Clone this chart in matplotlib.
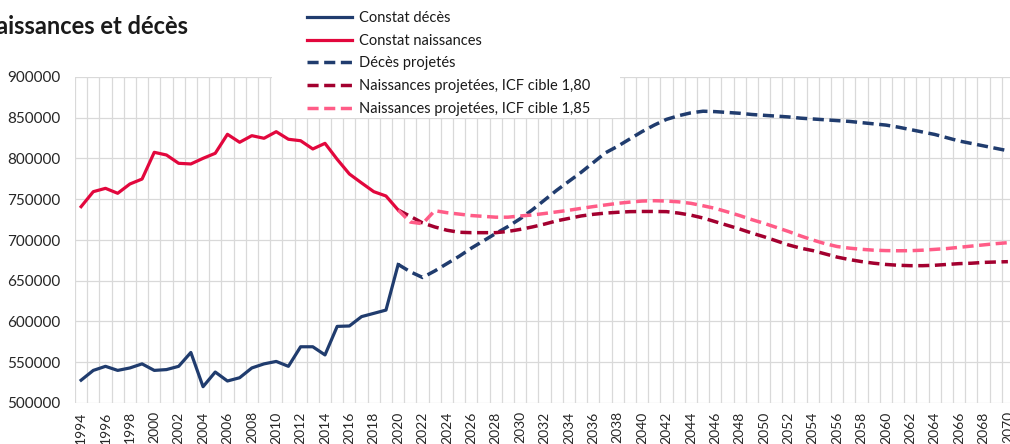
import matplotlib
matplotlib.use("Agg")
import matplotlib.pyplot as plt
from matplotlib.patches import Rectangle
import numpy as np

plt.rcParams['font.family'] = ['Lato', 'DejaVu Sans']

# ---------------- data ----------------
years_obs = list(range(1994, 2021))
deces_constat = [528000, 540000, 545000, 540000, 543000, 548000, 540000, 541000, 545000,
                 562000, 520000, 538000, 527000, 531000, 543000, 548000, 551000, 545000,
                 569000, 569000, 559000, 594000, 594500, 606000, 610000, 614000, 670000]
naiss_constat = [740900, 759300, 763400, 757300, 768700, 774800, 807600, 804300, 794100,
                 793300, 800200, 806400, 829700, 819900, 828000, 824800, 832900, 823600,
                 821800, 811700, 818600, 799000, 781000, 770000, 759300, 754000, 736800]

years_proj = list(range(2020, 2071))
deces_proj = [670000, 661000, 654000, 662000, 671000, 680000, 690000, 699000, 708000, 716500,
              726000, 737000, 749000, 761000, 772000, 783000, 795000, 807000, 815000, 824000,
              833000, 841000, 848000, 852500, 856000, 858000, 857500, 856500, 855500, 854000,
              853000, 852000, 851000, 849500, 848500, 847500, 846500, 845500, 844000, 842500,
              841000, 838500, 835500, 832500, 829500, 825500, 821500, 818500, 815500, 812500, 809500]
naiss_180 = [736800, 729000, 721000, 716000, 712000, 709500, 709000, 709000, 709000, 710500,
             713000, 716000, 719500, 723500, 726500, 729500, 731500, 733000, 734000, 734800,
             735000, 735000, 734800, 733000, 730500, 727000, 722500, 718000, 713500, 708500,
             704000, 699000, 694000, 690000, 687000, 683000, 679000, 676000, 673500, 671500,
             670000, 669000, 668500, 668500, 669000, 670000, 671000, 671500, 672500, 673000, 673400]
naiss_185 = [736800, 722000, 720000, 736000, 733500, 731800, 730000, 729000, 728000, 728000,
             729500, 730700, 732500, 734500, 736500, 738800, 741000, 743000, 745000, 746500,
             747800, 748200, 747800, 746800, 745000, 742000, 738800, 734500, 730000, 725000,
             720500, 715500, 710500, 705000, 700000, 695500, 692000, 690000, 688600, 687500,
             687000, 686800, 686900, 687500, 688500, 689500, 691000, 692500, 694000, 695500, 696700]

yticks = [500000, 550000, 600000, 650000, 700000, 750000, 800000, 850000, 900000]
title = "Naissances et décès"
labels = ["Constat décès", "Constat naissances", "Décès projetés",
          "Naissances projetées, ICF cible 1,80", "Naissances projetées, ICF cible 1,85"]

c_blue = "#203C6E"
c_red = "#E2073D"
c_dred = "#A3002F"
c_pink = "#FF5C87"

# ---------------- figure ----------------
W, H = 1010, 444
fig = plt.figure(figsize=(W / 100, H / 100), dpi=100)
left, right, top, bottom = 75, 1014, 77, 403
ax = fig.add_axes([left / W, 1 - bottom / H, (right - left) / W, (bottom - top) / H])

lw_solid = 2.3
lw_dash = 2.5
dash = (3.2, 1.6)
l1, = ax.plot(years_obs, deces_constat, color=c_blue, lw=lw_solid, solid_joinstyle='round', zorder=3)
l2, = ax.plot(years_obs, naiss_constat, color=c_red, lw=lw_solid, solid_joinstyle='round', zorder=3)
l3, = ax.plot(years_proj, deces_proj, color=c_blue, lw=lw_dash, dashes=dash, zorder=3)
l4, = ax.plot(years_proj, naiss_180, color=c_dred, lw=lw_dash, dashes=dash, zorder=3)
l5, = ax.plot(years_proj, naiss_185, color=c_pink, lw=lw_dash, dashes=dash, zorder=3)

ax.set_xlim(1993.5, 2070.5)
ax.set_ylim(500000, 900000)
ax.set_yticks(yticks)
ax.set_yticklabels([str(v) for v in yticks])
xt = list(range(1994, 2071, 2))
ax.set_xticks(xt)
ax.set_xticklabels([str(v) for v in xt], rotation=90)
ax.set_xticks(np.arange(1993.5, 2071, 1), minor=True)
ax.grid(False)
ax.grid(True, which='minor', axis='x', color='#d9d9d9', lw=0.9, zorder=0)
ax.grid(True, which='major', axis='y', color='#d9d9d9', lw=0.9, zorder=0)
ax.tick_params(which='both', length=0)
ax.tick_params(axis='y', pad=10.5, labelsize=11, colors='#262626')
ax.tick_params(axis='x', pad=6, labelsize=10, colors='#262626')
for s in ax.spines.values():
    s.set_visible(False)
ax.set_axisbelow(True)

# title (partially cut off on the left as in the source)
fig.text(188 / W, 1 - 27 / H, title, ha='right', va='center', fontsize=17,
         fontweight='bold', color='#1a1a1a')

# legend box covering the plot
fig.patches.append(Rectangle((272 / W, 1 - 118 / H), (620 - 272) / W, 118 / H,
                             transform=fig.transFigure, facecolor='white',
                             edgecolor='none', zorder=2))
leg = fig.legend([l1, l2, l3, l4, l5], labels, loc='upper left',
                 bbox_to_anchor=(307 / W, 1 - 11 / H), frameon=False, fontsize=10.5,
                 handlelength=3.1, handletextpad=0.45, labelspacing=0.6,
                 borderpad=0, borderaxespad=0)
leg.set_zorder(5)
for t in leg.get_texts():
    t.set_color('#1a1a1a')

fig.savefig("out.png", dpi=100)
